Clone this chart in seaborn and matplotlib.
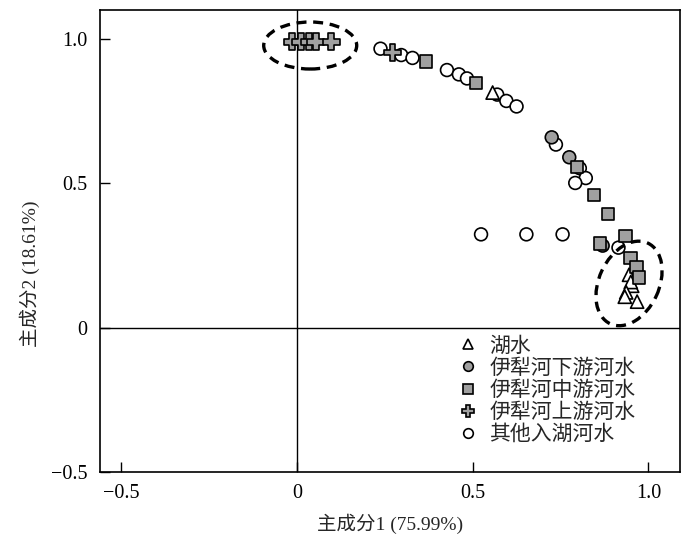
import numpy as np
import pandas as pd
import matplotlib
matplotlib.use("Agg")
import matplotlib.pyplot as plt
import matplotlib.transforms as mtransforms
from matplotlib.patches import Ellipse
import seaborn as sns

# ========================
# DATA
# ========================
groups = ["湖水", "伊犁河下游河水", "伊犁河中游河水", "伊犁河上游河水", "其他入湖河水"]

lake_x = [0.557, 0.945, 0.954, 0.950, 0.937, 0.933, 0.968]
lake_y = [0.814, 0.183, 0.145, 0.158, 0.122, 0.107, 0.090]

lower_x = [0.725, 0.775, 0.870]
lower_y = [0.659, 0.590, 0.284]

middle_x = [0.367, 0.510, 0.797, 0.845, 0.885, 0.935, 0.863, 0.949, 0.966, 0.974]
middle_y = [0.921, 0.847, 0.557, 0.459, 0.393, 0.317, 0.291, 0.241, 0.210, 0.174]

upper_x = [-0.013, 0.011, 0.035, 0.054, 0.098, 0.272]
upper_y = [0.990, 0.990, 0.990, 0.990, 0.990, 0.953]

other_x = [0.238, 0.297, 0.329, 0.427, 0.461, 0.484, 0.570, 0.596, 0.625,
           0.737, 0.805, 0.822, 0.792, 0.524, 0.653, 0.756, 0.915]
other_y = [0.966, 0.944, 0.934, 0.892, 0.877, 0.863, 0.807, 0.785, 0.766,
           0.634, 0.552, 0.518, 0.501, 0.323, 0.323, 0.323, 0.277]

# drawing order: others first, then lake, lower, middle, upper
frames = [
    pd.DataFrame({"x": other_x, "y": other_y, "group": "其他入湖河水"}),
    pd.DataFrame({"x": lake_x, "y": lake_y, "group": "湖水"}),
    pd.DataFrame({"x": lower_x, "y": lower_y, "group": "伊犁河下游河水"}),
    pd.DataFrame({"x": middle_x, "y": middle_y, "group": "伊犁河中游河水"}),
    pd.DataFrame({"x": upper_x, "y": upper_y, "group": "伊犁河上游河水"}),
]
df = pd.concat(frames, ignore_index=True)

palette = {"湖水": "white", "伊犁河下游河水": "#a0a0a0", "伊犁河中游河水": "#a0a0a0",
           "伊犁河上游河水": "#a0a0a0", "其他入湖河水": "white"}
markers = {"湖水": "^", "伊犁河下游河水": "o", "伊犁河中游河水": "s",
           "伊犁河上游河水": "P", "其他入湖河水": "o"}
sizes = {"湖水": 90, "伊犁河下游河水": 85, "伊犁河中游河水": 80,
         "伊犁河上游河水": 155, "其他入湖河水": 85}

# ========================
# PLOT
# ========================
sns.set_style("ticks")
plt.rcParams["font.family"] = ["Liberation Serif", "Noto Sans CJK SC", "DejaVu Sans"]
plt.rcParams["axes.unicode_minus"] = True

fig = plt.figure(figsize=(7.0, 5.42), dpi=100)
ax = fig.add_axes([100 / 700, 70 / 542, 580 / 700, 462 / 542])

ax.axhline(0, color="black", lw=1.0, zorder=1)
ax.axvline(0, color="black", lw=1.0, zorder=1)

sns.scatterplot(data=df, x="x", y="y", hue="group", style="group", size="group",
                hue_order=groups, style_order=groups, size_order=groups,
                palette=palette, markers=markers, sizes=sizes,
                edgecolor="black", linewidth=1.2, ax=ax, zorder=3)

ax.set_xlim(-0.56, 1.09)
ax.set_ylim(-0.5, 1.1)
ax.set_xticks([-0.5, 0, 0.5, 1.0])
ax.set_xticklabels(["\u22120.5", "0", "0.5", "1.0"])
ax.set_yticks([-0.5, 0, 0.5, 1.0])
ax.set_yticklabels(["\u22120.5", "0", "0.5", "1.0"])
ax.tick_params(direction="in", length=7, width=1.0, labelsize=14.5, pad=9, colors="black")
for sp in ax.spines.values():
    sp.set_linewidth(1.2)
    sp.set_color("black")

ax.set_xlabel("主成分1 (75.99%)", fontsize=14, labelpad=7)
ax.set_ylabel("主成分2 (18.61%)", fontsize=14)
ax.yaxis.set_label_coords(-0.103, 0.43)

# dashed ellipses (sizes in pixels -> inches)
def dashed_ellipse(cx, cy, w_px, h_px, angle):
    trans = fig.dpi_scale_trans + mtransforms.ScaledTranslation(cx, cy, ax.transData)
    e = Ellipse((0, 0), w_px / 100, h_px / 100, angle=angle, transform=trans,
                fill=False, edgecolor="black", lw=2.4, linestyle=(0, (3, 2)), zorder=4)
    ax.add_patch(e)

dashed_ellipse(0.038, 0.977, 93, 47, 0)
dashed_ellipse(0.945, 0.153, 89, 60, 65)

# legend
handles, labels = ax.get_legend_handles_labels()
leg = ax.legend(handles, labels, loc="upper left", bbox_to_anchor=(0.617, 0.292),
                frameon=False, fontsize=15, markerscale=0.75, handlelength=1.0,
                handletextpad=0.5, labelspacing=0.12, borderaxespad=0, borderpad=0)

fig.savefig("out.png", dpi=100)
